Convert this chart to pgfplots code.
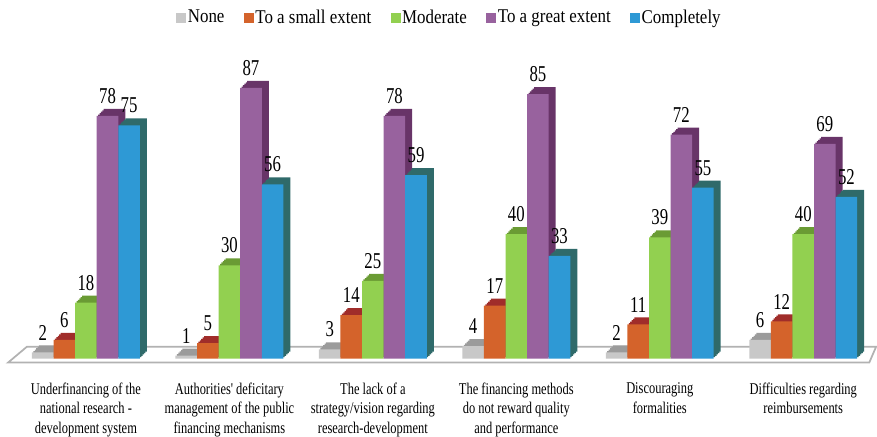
\documentclass[border=0pt]{standalone}
\usepackage{pgfplots}
\pgfplotsset{compat=1.18}
\usepackage{fontspec}
\setmainfont{Liberation Serif}
\newfontfamily\tickfont[FakeStretch=0.76]{Liberation Serif}
\newfontfamily\legfont[FakeStretch=0.87]{Liberation Serif}
\newfontfamily\valfont[FakeStretch=0.74]{Liberation Serif}

\definecolor{cNone}{RGB}{200,200,200}   \definecolor{dNone}{RGB}{155,155,155}
\definecolor{cSmall}{RGB}{212,99,43}    \definecolor{dSmall}{RGB}{160,45,42}
\definecolor{cMod}{RGB}{146,208,80}     \definecolor{dMod}{RGB}{106,155,52}
\definecolor{cGreat}{RGB}{152,98,158}   \definecolor{dGreat}{RGB}{104,52,104}
\definecolor{cComp}{RGB}{46,153,213}    \definecolor{dComp}{RGB}{47,106,106}

\tikzset{
  box3d/.style={
    preaction={fill=#1, transform canvas={shift={(1.05pt,1.05pt)}}},
    preaction={fill=#1, transform canvas={shift={(2.1pt,2.1pt)}}},
    preaction={fill=#1, transform canvas={shift={(3.15pt,3.15pt)}}},
    preaction={fill=#1, transform canvas={shift={(4.2pt,4.2pt)}}},
    preaction={fill=#1, transform canvas={shift={(5.25pt,5.25pt)}}},
  }
}

\pgfplotstableread{
x none small moderate great complete
0 2 6 18 78 75
1 1 5 30 87 56
2 3 14 25 78 59
3 4 17 40 85 33
4 2 11 39 72 55
5 6 12 40 69 52
}\datatable

\begin{document}
\begin{tikzpicture}
\begin{axis}[
  scale only axis, width=657.75pt, height=224.25pt,
  xmin=-0.599, xmax=5.508, ymin=0, ymax=96,
  axis x line=bottom, axis y line=left, axis line style={draw=none},
  ytick=\empty, xtick={0,...,5}, major tick length=0pt,
  xticklabels={
    {Underfinancing of the\\national research -\\development system},
    {Authorities' deficitary\\management of the public\\financing mechanisms},
    {The lack of a\\strategy/vision regarding\\research-development},
    {The financing methods\\do not reward quality\\and performance},
    {Discouraging\\formalities},
    {Difficulties regarding\\reimbursements}},
  xticklabel style={font=\tickfont\fontsize{12.3}{14.5}\selectfont, align=center, anchor=north, inner sep=0pt, yshift=-18pt},
  clip=false,
  /pgf/number format/assume math mode=true,
  legend columns=-1,
  legend style={at={(0.513,1)}, anchor=center, yshift=32pt, draw=none, fill=none,
    font=\legfont\fontsize{14.6}{14.6}\selectfont,
    /tikz/every even column/.append style={column sep=13pt},
    nodes={inner xsep=1.5pt}},
  every node near coord/.append style={font=\valfont\fontsize{17}{17}\selectfont, anchor=south, inner sep=0pt, yshift=9pt, text=black},
  nodes near coords={\pgfmathprintnumber{\pgfplotspointmeta}},
]
% floor
\draw[gray!60, line width=1.3pt, fill=white] (axis cs:-0.543,-1.28) -- (axis cs:5.46,-1.28) -- (axis cs:5.508,3.85) -- (axis cs:-0.411,3.85) -- cycle;
\path (rel axis cs:0,0) ++(0pt,-58.5pt) (rel axis cs:1,1) ++(0pt,45pt);

\addlegendimage{legend image code/.code={\fill[cNone] (0pt,-3.4pt) rectangle (6.8pt,3.4pt);}}
\addlegendentry{None}
\addlegendimage{legend image code/.code={\fill[cSmall] (0pt,-3.4pt) rectangle (6.8pt,3.4pt);}}
\addlegendentry{To a small extent}
\addlegendimage{legend image code/.code={\fill[cMod] (0pt,-3.4pt) rectangle (6.8pt,3.4pt);}}
\addlegendentry{Moderate}
\addlegendimage{legend image code/.code={\fill[cGreat] (0pt,-3.4pt) rectangle (6.8pt,3.4pt);}}
\addlegendentry{To a great extent}
\addlegendimage{legend image code/.code={\fill[cComp] (0pt,-3.4pt) rectangle (6.8pt,3.4pt);}}
\addlegendentry{Completely}

\addplot[ybar, forget plot, bar width=16.2pt, bar shift=-32.4pt, fill=cNone, draw=none, box3d=dNone,
  every node near coord/.append style={xshift=-32.4pt}] table[x=x, y=none] {\datatable};
\addplot[ybar, forget plot, bar width=16.2pt, bar shift=-16.2pt, fill=cSmall, draw=none, box3d=dSmall,
  every node near coord/.append style={xshift=-16.2pt}] table[x=x, y=small] {\datatable};
\addplot[ybar, forget plot, bar width=16.2pt, bar shift=0pt, fill=cMod, draw=none, box3d=dMod] table[x=x, y=moderate] {\datatable};
\addplot[ybar, forget plot, bar width=16.2pt, bar shift=16.2pt, fill=cGreat, draw=none, box3d=dGreat,
  every node near coord/.append style={xshift=16.2pt}] table[x=x, y=great] {\datatable};
\addplot[ybar, forget plot, bar width=16.2pt, bar shift=32.4pt, fill=cComp, draw=none, box3d=dComp,
  every node near coord/.append style={xshift=32.4pt}] table[x=x, y=complete] {\datatable};
\end{axis}
\end{tikzpicture}
\end{document}
